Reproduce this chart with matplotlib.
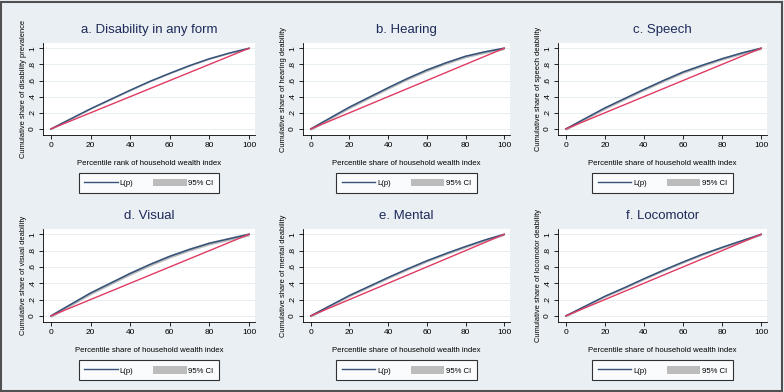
import numpy as np
import matplotlib.pyplot as plt
from matplotlib.patches import Patch, Rectangle
from matplotlib.lines import Line2D

plt.rcParams['font.family'] = ['Liberation Sans', 'DejaVu Sans']

# percentile share of household wealth index
pct = [0, 10, 20, 30, 40, 50, 60, 70, 80, 90, 100]

titles = ["a. Disability in any form", "b. Hearing", "c. Speech",
          "d. Visual", "e. Mental", "f. Locomotor"]
xlabels = ["Percentile rank of household wealth index"] + \
          ["Percentile share of household wealth index"] * 5
ylabels = ["Cumulative share of disability prevalence",
           "Cumulative share of hearing deability",
           "Cumulative share of speech deability",
           "Cumulative share of visual deability",
           "Cumulative share of mental deability",
           "Cumulative share of locomotor deability"]

# concentration curves L(p)
lp_any = [0, 0.125, 0.25, 0.365, 0.48, 0.59, 0.69, 0.785, 0.87, 0.94, 1.0]
lp_hearing = [0, 0.135, 0.27, 0.39, 0.51, 0.625, 0.73, 0.82, 0.90, 0.955, 1.0]
lp_speech = [0, 0.13, 0.26, 0.375, 0.49, 0.60, 0.705, 0.79, 0.87, 0.94, 1.0]
lp_visual = [0, 0.14, 0.28, 0.40, 0.52, 0.63, 0.73, 0.815, 0.89, 0.945, 1.0]
lp_mental = [0, 0.125, 0.25, 0.36, 0.47, 0.575, 0.675, 0.765, 0.85, 0.93, 1.0]
lp_locomotor = [0, 0.12, 0.24, 0.345, 0.455, 0.56, 0.66, 0.755, 0.84, 0.92, 1.0]
curves = [lp_any, lp_hearing, lp_speech, lp_visual, lp_mental, lp_locomotor]

# half width of the 95% CI band
ci_half = [0.009, 0.019, 0.018, 0.021, 0.016, 0.014]

yticks = [0, 0.2, 0.4, 0.6, 0.8, 1]
ytick_labels = ["0", ".2", ".4", ".6", ".8", "1"]
xticks = [0, 20, 40, 60, 80, 100]

bg = "#e9eff2"
navy = "#34527a"
red = "#e03a62"
band = "#bcbcbc"

W, H = 784, 392
fig = plt.figure(figsize=(7.84, 3.92), dpi=100, facecolor=bg)

# axes boxes in pixels: left, top, right, bottom
cols = [(43, 255), (303, 510), (558, 767)]
rows = [(43, 135), (229, 322)]

for i in range(6):
    r, c = divmod(i, 3)
    x0, x1 = cols[c]
    y0, y1 = rows[r]
    ax = fig.add_axes([x0 / W, 1 - y1 / H, (x1 - x0) / W, (y1 - y0) / H])
    ax.set_facecolor("white")
    y = np.array(curves[i])
    ax.fill_between(pct, y - ci_half[i], y + ci_half[i], color=band, lw=0)
    ax.plot(pct, y, color=navy, lw=1.1)
    ax.plot([0, 100], [0, 1], color=red, lw=1.0)
    ax.set_xlim(-4, 103)
    ax.set_ylim(-0.075, 1.065)
    ax.set_xticks(xticks)
    ax.set_yticks(yticks)
    ax.set_yticklabels(ytick_labels, rotation=90, va="center")
    ax.tick_params(labelsize=6, length=3, width=0.6, pad=2)
    ax.grid(axis="y", color="#e3edf1", lw=0.6)
    ax.set_axisbelow(True)
    for s in ["top", "right"]:
        ax.spines[s].set_visible(False)
    for s in ["left", "bottom"]:
        ax.spines[s].set_linewidth(0.6)
    ax.set_title(titles[i], fontsize=9.5, color="#1e2a5a", pad=7)
    ax.set_xlabel(xlabels[i], fontsize=5.6, labelpad=8)
    ax.set_ylabel(ylabels[i], fontsize=5.4, labelpad=1.5)
    handles = [Line2D([], [], color=navy, lw=1.0),
               Patch(facecolor=band, edgecolor="none")]
    leg = ax.legend(handles, ["L(p)", "95% CI"], loc="upper center",
                    bbox_to_anchor=(0.5, -0.37), ncol=2, fontsize=5.6,
                    frameon=True, fancybox=False, edgecolor="black",
                    handlelength=4.3, handleheight=1.1, columnspacing=2.6,
                    borderpad=0.75, handletextpad=0.2)
    leg.get_frame().set_linewidth(0.8)

# dark frame around the whole graph
fig.patches.append(Rectangle((0.001, 0.002), 0.997, 0.994, transform=fig.transFigure,
                             fill=False, edgecolor="#505050", lw=1.5))

fig.savefig("out.png", dpi=100, facecolor=bg)
